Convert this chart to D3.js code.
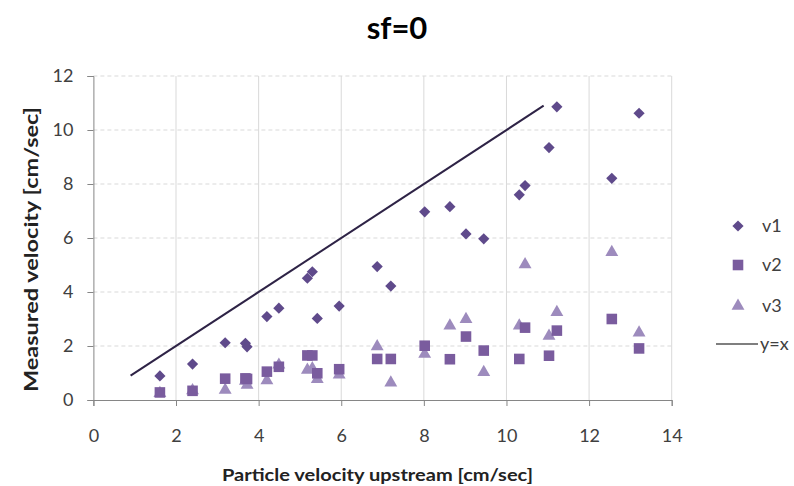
<!DOCTYPE html>
<html>
<head>
<meta charset="UTF-8">
<title>sf=0</title>
<script src="https://cdnjs.cloudflare.com/ajax/libs/d3/7.8.5/d3.min.js"></script>
<style>
  body { margin: 0; background: #fff; }
  svg text { font-family: Lato, "Open Sans", sans-serif; }
</style>
</head>
<body>
<div id="chart"></div>
<script>
// Data
var upstream = [1.61, 2.40, 3.19, 3.68, 3.72, 4.20, 4.49, 5.18, 5.30, 5.42, 5.95, 6.87,
                7.20, 8.02, 8.63, 9.02, 9.45, 10.31, 10.45, 11.03, 11.22, 12.55, 13.21];
var v1 = [0.89, 1.33, 2.12, 2.10, 1.97, 3.09, 3.40, 4.51, 4.75, 3.02, 3.48, 4.94,
          4.22, 6.97, 7.16, 6.15, 5.97, 7.60, 7.94, 9.35, 10.86, 8.21, 10.62];
var v2 = [0.28, 0.34, 0.79, 0.80, 0.78, 1.05, 1.23, 1.65, 1.65, 0.99, 1.14, 1.52,
          1.52, 2.01, 1.51, 2.35, 1.83, 1.52, 2.68, 1.64, 2.57, 3.00, 1.91];
var v3 = [0.25, 0.35, 0.37, 0.70, 0.55, 0.72, 1.30, 1.11, 1.17, 0.77, 0.93, 1.98,
          0.64, 1.70, 2.75, 2.99, 1.03, 2.75, 5.02, 2.37, 3.25, 5.47, 2.49];
var lineX = [0.9, 10.9];
var xTicks = [0, 2, 4, 6, 8, 10, 12, 14];
var yTicks = [0, 2, 4, 6, 8, 10, 12];

var seriesNames = ["v1", "v2", "v3"];
var seriesValues = [v1, v2, v3];
var colors = ["#5f4a8b", "#7a5c9e", "#9d8bbd"];
var shapes = [d3.symbolDiamond2, d3.symbolSquare, d3.symbolTriangle];
var shapeSize = [80, 112, 72];

var w = 794, h = 486;
var margin = { left: 93.4, right: 794 - 671.7, top: 76, bottom: 486 - 400 };

var svg = d3.select("#chart").append("svg")
    .attr("width", w)
    .attr("height", h);

var x = d3.scaleLinear().domain([0, 14]).range([margin.left, w - margin.right]);
var y = d3.scaleLinear().domain([0, 12]).range([h - margin.bottom, margin.top]);

// Grid: dashed horizontals, solid verticals
svg.append("g").selectAll("line")
    .data(yTicks.filter(function(d) { return d > 0; }))
    .enter().append("line")
    .attr("x1", x(0)).attr("x2", x(14))
    .attr("y1", function(d) { return y(d); })
    .attr("y2", function(d) { return y(d); })
    .attr("stroke", "#d9d9d9")
    .attr("stroke-dasharray", "4,3");

svg.append("g").selectAll("line")
    .data(xTicks.filter(function(d) { return d > 0; }))
    .enter().append("line")
    .attr("x1", function(d) { return x(d); })
    .attr("x2", function(d) { return x(d); })
    .attr("y1", y(0)).attr("y2", y(12))
    .attr("stroke", "#d9d9d9");

// Axes
var xAxis = svg.append("g")
    .attr("transform", "translate(0," + y(0) + ")")
    .call(d3.axisBottom(x).tickValues(xTicks).tickSize(6));
var yAxis = svg.append("g")
    .attr("transform", "translate(" + x(0) + ",0)")
    .call(d3.axisLeft(y).tickValues(yTicks).tickSize(6).tickPadding(14));

[xAxis, yAxis].forEach(function(a) {
    a.select(".domain").attr("stroke", "#868686");
    a.selectAll(".tick line").attr("stroke", "#868686");
    a.selectAll(".tick text")
        .attr("fill", "#404040")
        .style("font-size", "18px");
});
xAxis.selectAll(".tick text").attr("dy", null).attr("y", 42);

// y = x line
svg.append("line")
    .attr("x1", x(lineX[0])).attr("y1", y(lineX[0]))
    .attr("x2", x(lineX[1])).attr("y2", y(lineX[1]))
    .attr("stroke", "#2e2346")
    .attr("stroke-width", 2);

// Points (v3 under, v1 on top)
[2, 1, 0].forEach(function(s) {
    svg.append("g").selectAll("path")
        .data(seriesValues[s])
        .enter().append("path")
        .attr("d", d3.symbol().type(shapes[s]).size(shapeSize[s]))
        .attr("transform", function(d, i) {
            return "translate(" + x(upstream[i]) + "," + y(d) + ")";
        })
        .attr("fill", colors[s]);
});

// Title
svg.append("text")
    .attr("x", 397).attr("y", 39)
    .attr("text-anchor", "middle")
    .style("font-size", "31px")
    .style("font-weight", "bold")
    .text("sf=0");

// Axis titles
svg.append("text")
    .attr("x", 222).attr("y", 481)
    .attr("textLength", 311)
    .attr("lengthAdjust", "spacingAndGlyphs")
    .style("font-size", "17px")
    .style("font-weight", "bold")
    .attr("fill", "#222")
    .text("Particle velocity upstream [cm/sec]");

svg.append("text")
    .attr("transform", "translate(38,392) rotate(-90)")
    .attr("textLength", 285)
    .attr("lengthAdjust", "spacingAndGlyphs")
    .style("font-size", "18px")
    .style("font-weight", "bold")
    .attr("fill", "#222")
    .text("Measured velocity [cm/sec]");

// Legend
var legendY = [226, 265, 306];
seriesNames.forEach(function(name, s) {
    svg.append("path")
        .attr("d", d3.symbol().type(shapes[s]).size(shapeSize[s]))
        .attr("transform", "translate(738," + legendY[s] + ")")
        .attr("fill", colors[s]);
    svg.append("text")
        .attr("x", 762).attr("y", legendY[s])
        .attr("dy", "0.35em")
        .attr("fill", "#404040")
        .style("font-size", "18px")
        .text(name);
});
svg.append("line")
    .attr("x1", 716).attr("x2", 758)
    .attr("y1", 344).attr("y2", 344)
    .attr("stroke", "#000")
    .attr("stroke-width", 1.2);
svg.append("text")
    .attr("x", 760).attr("y", 344)
    .attr("dy", "0.35em")
    .attr("fill", "#404040")
    .style("font-size", "18px")
    .text("y=x");
</script>
</body>
</html>
